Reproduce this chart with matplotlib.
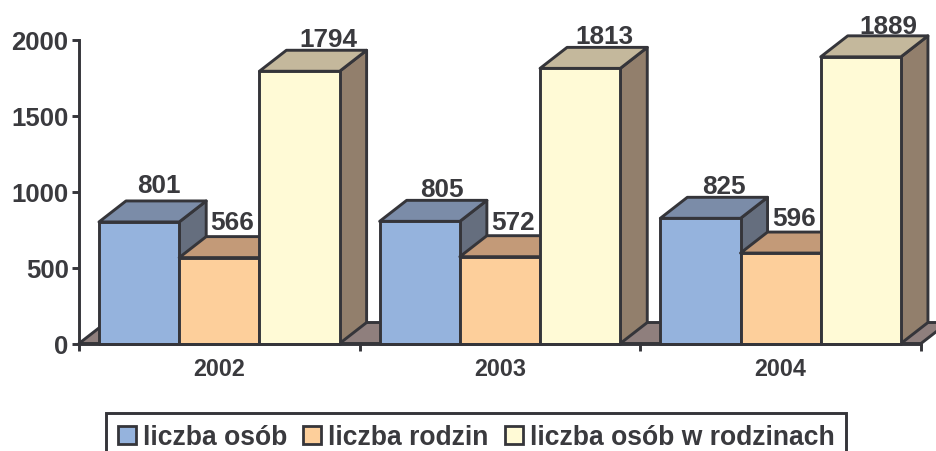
import matplotlib
matplotlib.use('Agg')
import matplotlib.pyplot as plt
from matplotlib.patches import Patch

plt.rcParams['font.family'] = ['Liberation Sans', 'DejaVu Sans']
plt.rcParams['font.weight'] = 'bold'

years = ['2002', '2003', '2004']
series_names = ['liczba osób', 'liczba rodzin', 'liczba osób w rodzinach']
osoby = [801, 805, 825]
rodziny = [566, 572, 596]
osoby_w_rodzinach = [1794, 1813, 1889]
y_ticks = [0, 500, 1000, 1500, 2000]

W, H = 937, 452
line = '#35353a'
text = '#3a3a3e'
front = ['#95b3dd', '#fdcf9b', '#fffad6']
top = ['#7b8ca8', '#c39a78', '#c4b89c']
side = ['#656e7e', '#8d7a66', '#927f6c']
floor_color = '#8f7f7d'

fig = plt.figure(figsize=(W / 100, H / 100), dpi=100)
# axes covers x 79..921 px, y 344.5..41 px
ax = fig.add_axes([79 / W, 1 - 344.5 / H, (921 - 79) / W, (344.5 - 41) / H])
ax.set_xlim(0, 3)
ax.set_ylim(0, 2000)

px_x = 3 / (921 - 79)
px_y = 2000 / (344.5 - 41)
dx = 27 * px_x
dy = 21 * px_y
bar_w = 80.2 * px_x
start = 20 * px_x
lw = 2.1

# floor
ax.fill([0, dx, 3 + dx, 3], [0, dy, dy, 0], facecolor=floor_color, edgecolor=line,
        lw=lw, clip_on=False, zorder=1, joinstyle='round')

# label offsets in pixels from the bar's front top centre
offsets = [[(20, 37), (22, 32), (24, 32)],
           [(13, 36), (13, 35), (13, 35)],
           [(29, 32.5), (24, 32.5), (28, 30.5)]]

z = 2
for g in range(3):
    values = [osoby[g], rodziny[g], osoby_w_rodzinach[g]]
    for s, v in enumerate(values):
        x0 = g + start + s * bar_w
        x1 = x0 + bar_w
        ax.fill([x1, x1 + dx, x1 + dx, x1], [0, dy, v + dy, v], facecolor=side[s],
                edgecolor=line, lw=lw, clip_on=False, zorder=z, joinstyle='round')
        ax.fill([x0, x0 + dx, x1 + dx, x1], [v, v + dy, v + dy, v], facecolor=top[s],
                edgecolor=line, lw=lw, clip_on=False, zorder=z, joinstyle='round')
        ax.fill([x0, x1, x1, x0], [0, 0, v, v], facecolor=front[s],
                edgecolor=line, lw=lw, clip_on=False, zorder=z + 0.5, joinstyle='round')
        z += 1
        off = offsets[s][g]
        ax.annotate(str(v), xy=((x0 + x1) / 2, v), xytext=(off[0] * 0.72, off[1] * 0.72),
                    textcoords='offset points', ha='center', va='center',
                    fontsize=18.8, color=text, zorder=100, annotation_clip=False)

for name in ['top', 'right']:
    ax.spines[name].set_visible(False)
for name in ['left', 'bottom']:
    ax.spines[name].set_color(line)
    ax.spines[name].set_linewidth(lw)
ax.spines['bottom'].set_zorder(60)
ax.patch.set_visible(False)

ax.set_yticks(y_ticks)
ax.tick_params(axis='y', labelsize=18.5, labelcolor=text, color=line, width=lw, length=5, pad=2.5)
ax.set_xticks([0, 1, 2, 3])
ax.set_xticklabels([])
ax.tick_params(axis='x', color=line, width=lw, length=5)
ax.set_xticks([0.5, 1.5, 2.5], labels=years, minor=True)
ax.tick_params(axis='x', which='minor', length=0, pad=10, labelsize=16.8, labelcolor=text)

handles = [Patch(facecolor=front[i], edgecolor=line, lw=2, label=series_names[i]) for i in range(3)]
leg = fig.legend(handles=handles, ncol=3, loc='upper left',
                 bbox_to_anchor=(106 / W, 1 - 413.5 / H), bbox_transform=fig.transFigure,
                 borderaxespad=0, fontsize=19.1, frameon=True, fancybox=False,
                 edgecolor=line, facecolor='white', framealpha=1,
                 handlelength=0.68, handleheight=0.68, handletextpad=0.25,
                 columnspacing=0.62, borderpad=0.45, labelcolor=text)
leg.get_frame().set_linewidth(lw)

fig.savefig('out.png', dpi=100)
